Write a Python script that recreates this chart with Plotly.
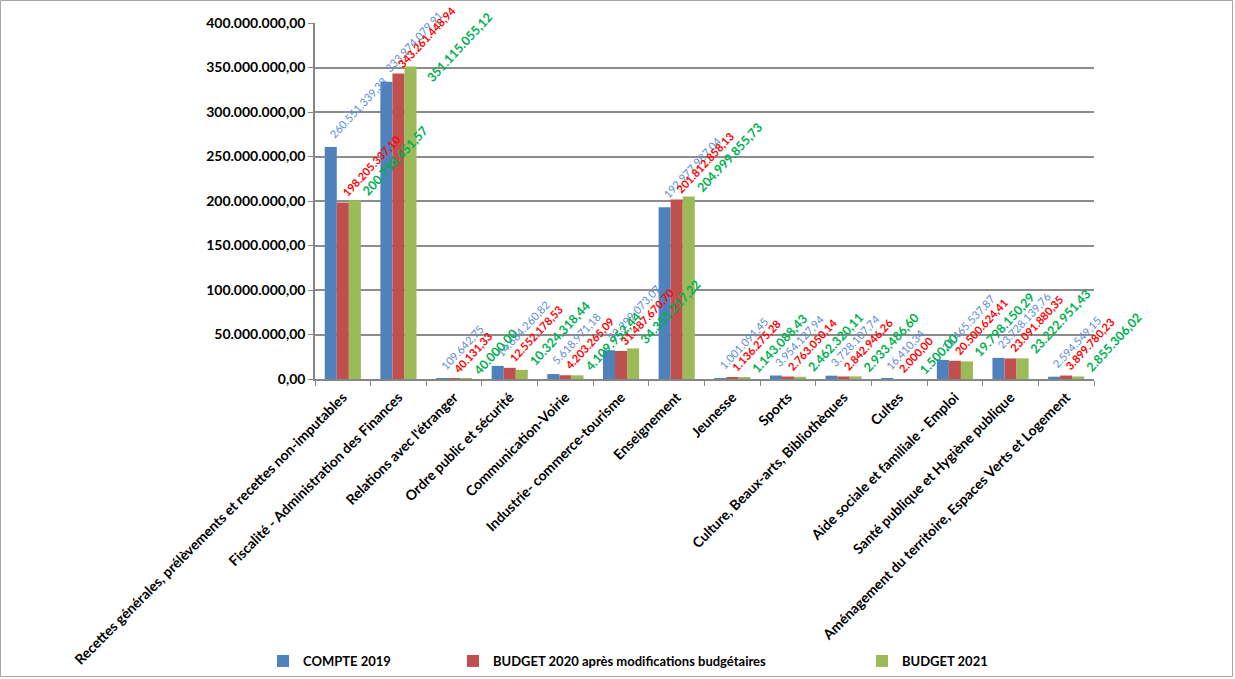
import plotly.graph_objects as go

categories = [
    "Recettes générales, prélèvements et recettes non-imputables",
    "Fiscalité - Administration des Finances",
    "Relations avec l'étranger",
    "Ordre public et sécurité",
    "Communication-Voirie",
    "Industrie- commerce-tourisme",
    "Enseignement",
    "Jeunesse",
    "Sports",
    "Culture, Beaux-arts, Bibliothèques",
    "Cultes",
    "Aide sociale et familiale - Emploi",
    "Santé publique et Hygiène publique",
    "Aménagement du territoire, Espaces Verts et Logement",
]

compte_2019 = [260551339.33, 333974079.91, 109642.75, 14684260.82, 5618971.18,
               32299073.07, 192977987.04, 1001091.45, 3954127.94, 3728107.74,
               16410.34, 21465537.87, 23728139.76, 2594549.15]
budget_2020 = [198205337.10, 343261448.94, 40131.33, 12552178.53, 4203265.09,
               31487670.70, 201812858.13, 1136275.28, 2763050.14, 2842946.26,
               2000.00, 20500624.41, 23091880.35, 3899780.23]
budget_2021 = [200758451.57, 351115055.12, 40000.00, 10324318.44, 4109952.44,
               34355217.22, 204999855.73, 1143088.43, 2462320.11, 2933486.60,
               1500.00, 19798150.29, 23222951.43, 2855306.02]

series_names = ["COMPTE 2019", "BUDGET 2020 après modifications budgétaires", "BUDGET 2021"]
y_ticks = [0, 50e6, 100e6, 150e6, 200e6, 250e6, 300e6, 350e6, 400e6]
Y_MAX = 400e6

W, H = 1235, 679
ML, MR, MT, MB = 315, 141, 23, 300
PW, PH = W - ML - MR, H - MT - MB

FONT = "Lato, 'Liberation Sans', sans-serif"
bar_colors = ["#4F81BD", "#C0504D", "#9BBB59"]
label_colors = ["#5B8BD9", "#FF0000", "#00B050"]
label_sizes = [11, 11, 12.5]
label_bold = [False, True, True]
label_xshift = [-19, -6, 14]
label_yshift = [4, 1, -1]
legend_left_px = [263, 453, 862]
legend_y_px = 661


def fmt(v):
    s = f"{v:,.2f}"
    return s.replace(",", "X").replace(".", ",").replace("X", ".")


fig = go.Figure()
annotations = []
legend_names = ["legend", "legend2", "legend3"]
for i, (name, vals) in enumerate(zip(series_names, [compte_2019, budget_2020, budget_2021])):
    fig.add_trace(go.Bar(
        x=categories, y=vals, name=name, legend=legend_names[i],
        marker=dict(color=bar_colors[i], line=dict(width=0)),
    ))
    for c, v in zip(categories, vals):
        txt = fmt(v)
        if label_bold[i]:
            txt = "<b>" + txt + "</b>"
        xs, ys = label_xshift[i], label_yshift[i]
        # label pushed beside the bar when it would run off the top of the chart
        if i == 2 and v > 0.85 * Y_MAX:
            xs, ys = 22, -21
        annotations.append(dict(
            x=c, y=v, xref="x", yref="y", text=txt, showarrow=False,
            textangle=-47, xanchor="left", yanchor="bottom",
            xshift=xs, yshift=ys,
            font=dict(family=FONT, size=label_sizes[i], color=label_colors[i]),
        ))

legend_common = dict(
    orientation="h", xanchor="left", yanchor="middle",
    y=-(legend_y_px - MT - PH) / PH,
    font=dict(family=FONT, size=13, color="black", weight="bold"),
    bgcolor="rgba(0,0,0,0)",
)

fig.update_layout(
    width=W, height=H,
    margin=dict(l=ML, r=MR, t=MT, b=MB, pad=0, autoexpand=False),
    paper_bgcolor="white", plot_bgcolor="white",
    barmode="group", bargap=0.35, bargroupgap=0,
    separators=",.",
    font=dict(family=FONT, color="black"),
    annotations=annotations,
    showlegend=True,
    legend=dict(x=(legend_left_px[0] - ML) / PW, **legend_common),
    legend2=dict(x=(legend_left_px[1] - ML) / PW, **legend_common),
    legend3=dict(x=(legend_left_px[2] - ML) / PW, **legend_common),
    shapes=[dict(
        type="rect", xref="paper", yref="paper",
        x0=-(ML - 0.5) / PW, x1=1 + (MR - 2.5) / PW,
        y0=-(MB - 2.5) / PH, y1=1 + (MT - 0.5) / PH,
        line=dict(color="#A6A6A6", width=1), layer="below",
    )],
)

fig.update_xaxes(
    type="category", range=[-0.5, len(categories) - 0.5],
    tickangle=-45, ticks="outside", tickson="boundaries",
    ticklen=5, tickcolor="#868686", showline=True, linecolor="#868686", linewidth=1.5,
    tickfont=dict(family=FONT, size=14, color="black", weight="bold"),
    ticklabelstandoff=3, showgrid=False, automargin=False,
)
fig.update_yaxes(
    range=[0, Y_MAX], tickvals=y_ticks, tickformat=",.2f",
    ticks="outside", ticklen=5, tickcolor="#868686",
    showline=True, linecolor="#868686", linewidth=1.5,
    showgrid=True, gridcolor="#8C8C8C", gridwidth=1.5,
    tickfont=dict(family=FONT, size=14, color="black", weight="bold"),
    zeroline=False, automargin=False,
)

fig.write_html("out.html")
